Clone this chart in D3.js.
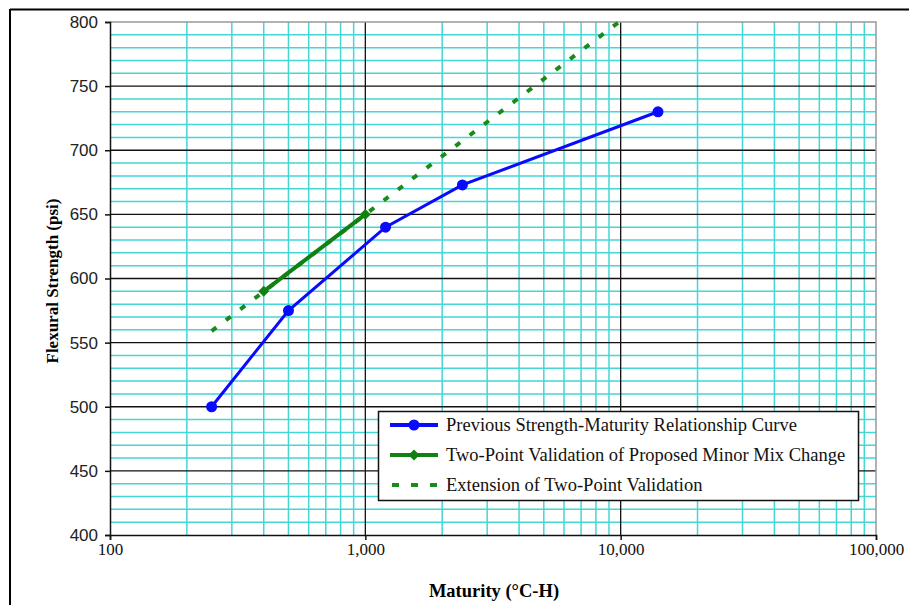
<!DOCTYPE html>
<html><head><meta charset="utf-8">
<script src="https://cdn.jsdelivr.net/npm/d3@7"></script>
<style>body{margin:0;background:#fff;}svg{display:block;}</style>
</head><body>
<svg id="c" width="909" height="605"></svg>
<script>
const prevX = [250, 500, 1200, 2400, 14000];
const prevY = [500, 575, 640, 673, 730];
const valX = [400, 1000];
const valY = [590, 650];
const extX = [250, 10000];
const extY = [559, 801];
const xTicks = [100, 1000, 10000, 100000];
const yTicks = [400, 450, 500, 550, 600, 650, 700, 750, 800];
const seriesNames = ["Previous Strength-Maturity Relationship Curve",
  "Two-Point Validation of Proposed Minor Mix Change",
  "Extension of Two-Point Validation"];

const svg = d3.select("#c");
const L = 110, R = 876, T = 22, B = 535;
const x = d3.scaleLog().domain([100, 100000]).range([L, R]);
const y = d3.scaleLinear().domain([400, 800]).range([B, T]);
const cyan = "#45d6d6";
const serif = "Liberation Serif, Times New Roman, serif";

// outer frame
svg.append("line").attr("x1", 10).attr("x2", 909).attr("y1", 9.5).attr("y2", 9.5).attr("stroke", "#000").attr("stroke-width", 2);
svg.append("line").attr("x1", 10).attr("x2", 10).attr("y1", 9).attr("y2", 605).attr("stroke", "#000").attr("stroke-width", 2);

// minor grid
const minorX = [];
for (let d = 100; d < 100000; d *= 10) for (let k = 2; k <= 9; k++) minorX.push(d * k);
const minorY = d3.range(400, 801, 10).filter(v => v % 50 !== 0);
const g = svg.append("g");
g.selectAll(".mx").data(minorX).join("line").attr("x1", d => x(d)).attr("x2", d => x(d)).attr("y1", T).attr("y2", B).attr("stroke", cyan).attr("stroke-width", 1.5);
g.selectAll(".my").data(minorY).join("line").attr("x1", L).attr("x2", R).attr("y1", d => y(d)).attr("y2", d => y(d)).attr("stroke", cyan).attr("stroke-width", 1.5);
// major grid
g.selectAll(".Mx").data(xTicks.slice(1, -1)).join("line").attr("x1", d => x(d)).attr("x2", d => x(d)).attr("y1", T).attr("y2", B).attr("stroke", "#111").attr("stroke-width", 1.3);
g.selectAll(".My").data(yTicks.slice(1, -1)).join("line").attr("x1", L).attr("x2", R).attr("y1", d => y(d)).attr("y2", d => y(d)).attr("stroke", "#111").attr("stroke-width", 1.3);
// gray top/right border
svg.append("path").attr("d", `M${L},${T}H${R}V${B}`).attr("fill", "none").attr("stroke", "#999").attr("stroke-width", 1.5);

// axes
const xAxis = d3.axisBottom(x).tickValues(xTicks).tickSize(5).tickFormat(d3.format(","));
const yAxis = d3.axisLeft(y).tickValues(yTicks).tickSize(5).tickFormat(d3.format("d"));
const gx = svg.append("g").attr("transform", `translate(0,${B})`).call(xAxis);
const gy = svg.append("g").attr("transform", `translate(${L},0)`).call(yAxis);
[gx, gy].forEach(a => {
  a.attr("font-size", null).attr("font-family", null);
  a.select(".domain").attr("stroke", "#111").attr("stroke-width", 1.5);
  a.selectAll(".tick line").attr("stroke", "#111").attr("stroke-width", 1.5);
});
gx.selectAll(".tick text").style("font-family", serif).style("font-size", "17px").attr("fill", "#111").attr("y", 8);
gy.selectAll(".tick text").style("font-family", "Liberation Sans, Arial, sans-serif").style("font-size", "17px").attr("fill", "#222").attr("x", -12);

// titles
svg.append("text").attr("x", 494).attr("y", 597).attr("text-anchor", "middle").style("font-family", serif).attr("font-weight", "bold").style("font-size", "18.5px").text("Maturity (°C-H)");
svg.append("text").attr("transform", "translate(58,281) rotate(-90)").attr("text-anchor", "middle").style("font-family", serif).attr("font-weight", "bold").style("font-size", "17px").text("Flexural Strength (psi)");

const line = d3.line().x(d => x(d[0])).y(d => y(d[1]));

// extension dashed
svg.append("path").attr("d", line(d3.zip(extX, extY))).attr("fill", "none").attr("stroke", "#1a8a1a").attr("stroke-width", 4).attr("stroke-dasharray", "6,12");
// validation
svg.append("path").attr("d", line(d3.zip(valX, valY))).attr("fill", "none").attr("stroke", "#128012").attr("stroke-width", 4);
const sq = d3.symbol().type(d3.symbolSquare).size(60);
svg.selectAll(".vm").data(d3.zip(valX, valY)).join("path").attr("d", sq).attr("transform", d => `translate(${x(d[0])},${y(d[1])}) rotate(45)`).attr("fill", "#128012");
// previous
svg.append("path").attr("d", line(d3.zip(prevX, prevY))).attr("fill", "none").attr("stroke", "#0a0aff").attr("stroke-width", 3);
svg.selectAll(".pm").data(d3.zip(prevX, prevY)).join("circle").attr("cx", d => x(d[0])).attr("cy", d => y(d[1])).attr("r", 5.5).attr("fill", "#0a0aff");

// legend
const lg = svg.append("g");
lg.append("rect").attr("x", 378.5).attr("y", 411.5).attr("width", 480).attr("height", 89).attr("fill", "#fff").attr("stroke", "#111").attr("stroke-width", 1.5);
const ly = [425, 455, 485];
lg.append("line").attr("x1", 390).attr("x2", 438).attr("y1", ly[0]).attr("y2", ly[0]).attr("stroke", "#0a0aff").attr("stroke-width", 4);
lg.append("circle").attr("cx", 414).attr("cy", ly[0]).attr("r", 5.5).attr("fill", "#0a0aff");
lg.append("line").attr("x1", 390).attr("x2", 438).attr("y1", ly[1]).attr("y2", ly[1]).attr("stroke", "#128012").attr("stroke-width", 4);
lg.append("path").attr("d", sq).attr("transform", `translate(414,${ly[1]}) rotate(45)`).attr("fill", "#128012");
lg.append("line").attr("x1", 392).attr("x2", 438).attr("y1", ly[2]).attr("y2", ly[2]).attr("stroke", "#1a8a1a").attr("stroke-width", 4).attr("stroke-dasharray", "7,12");
lg.selectAll(".lt").data(seriesNames).join("text").attr("x", 446).attr("y", (d, i) => ly[i] + 6).style("font-family", serif).style("font-size", "18.5px").attr("fill", "#111").text(d => d);
</script>
</body></html>
